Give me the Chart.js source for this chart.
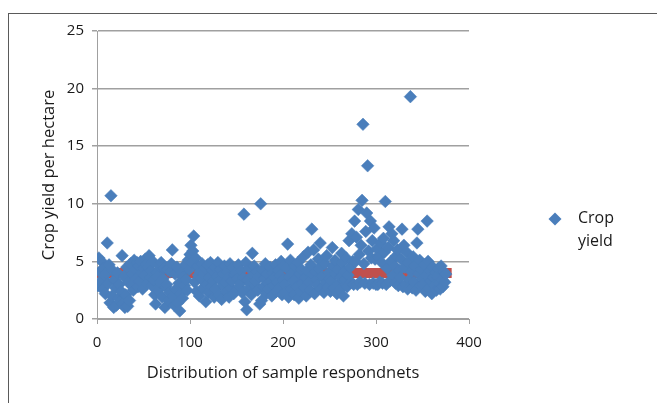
<!DOCTYPE html>
<html>
<head>
<meta charset="utf-8">
<script src="https://cdn.jsdelivr.net/npm/chart.js@4.4.1/dist/chart.umd.min.js"></script>
<style>
  html, body { margin: 0; padding: 0; background: #fff; }
  #wrap { width: 657px; height: 403px; position: relative; }
</style>
</head>
<body>
<div id="wrap"><canvas id="chart" width="657" height="403"></canvas></div>
<script>
// Crop yield per respondent (respondent number = position in list, 1..375)
const cropYield = [
  2.9, 5.3, 4.1, 3.3, 5.0, 2.6, 4.4, 3.8, 2.2, 4.0, 6.6, 3.1, 4.7, 1.4, 10.7, 2.0, 4.2, 1.0, 3.4, 2.7, 1.2, 4.0, 1.8, 3.0, 1.5,
  2.4, 5.5, 1.3, 3.7, 1.0, 2.1, 4.5, 1.1, 3.2, 1.6, 4.8, 2.9, 3.9, 2.5, 5.1, 4.3, 3.5, 4.9, 2.8, 4.6, 3.3, 5.0, 4.0, 2.6, 4.4,
  3.8, 5.2, 4.7, 3.1, 4.5, 5.5, 3.6, 4.2, 2.9, 5.0, 3.4, 2.1, 1.3, 4.0, 3.7, 2.5, 4.6, 3.2, 4.9, 1.9, 3.5, 4.4, 1.0, 2.8, 3.0,
  4.3, 1.6, 2.3, 4.1, 4.8, 6.0, 2.0, 1.2, 3.9, 2.6, 4.5, 1.4, 3.1, 0.7, 2.2, 4.0, 1.8, 3.6, 2.9, 4.7, 3.4, 2.5, 5.1, 4.3, 5.6,
  6.4, 4.9, 5.9, 7.2, 3.2, 5.3, 2.4, 4.6, 3.8, 2.0, 4.1, 3.5, 4.8, 2.7, 3.9, 4.4, 1.5, 3.0, 4.7, 2.3, 3.6, 4.9, 2.8, 4.2, 3.3,
  1.9, 4.5, 2.6, 3.7, 4.9, 2.1, 3.4, 4.3, 1.7, 3.9, 2.9, 4.6, 3.2, 2.4, 4.1, 3.6, 1.9, 4.8, 2.7, 3.3, 4.4, 2.2, 3.8, 4.0, 2.5,
  3.5, 4.7, 2.8, 3.1, 4.2, 2.3, 3.6, 9.1, 1.5, 4.9, 0.8, 3.4, 2.6, 4.4, 3.0, 2.1, 5.7, 3.8, 4.6, 2.9, 3.3, 4.1, 2.5, 3.7, 1.3,
  10.0, 1.6, 4.3, 2.8, 3.5, 4.8, 2.2, 3.9, 3.1, 2.6, 4.5, 3.3, 2.0, 4.0, 2.9, 3.6, 4.7, 2.4, 3.2, 4.2, 2.7, 3.8, 5.0, 2.1, 3.4,
  4.6, 3.0, 2.3, 4.4, 6.5, 1.9, 3.7, 5.1, 2.6, 4.0, 3.3, 2.1, 4.6, 3.5, 2.8, 4.9, 1.8, 3.9, 2.4, 4.3, 3.1, 5.4, 2.7, 3.6, 2.0,
  4.2, 5.8, 3.2, 2.5, 4.7, 7.8, 3.8, 6.0, 2.2, 4.1, 3.4, 2.9, 5.2, 4.4, 6.6, 2.6, 3.7, 5.0, 2.3, 4.8, 3.1, 5.5, 2.8, 4.0, 3.5,
  2.4, 3.3, 6.2, 4.6, 2.7, 5.1, 3.9, 2.2, 4.3, 3.0, 2.5, 3.6, 5.7, 4.9, 2.0, 4.1, 3.4, 5.3, 2.8, 3.8, 6.8, 4.5, 3.2, 7.4, 5.0,
  3.0, 8.5, 5.0, 7.1, 3.0, 9.5, 5.6, 3.2, 6.4, 10.3, 16.9, 4.8, 3.1, 7.6, 9.2, 13.3, 5.9, 3.0, 8.5, 5.3, 6.8, 3.1, 7.9, 5.2, 3.0,
  6.1, 3.0, 5.4, 3.2, 6.6, 4.9, 3.1, 7.0, 5.8, 10.2, 3.0, 4.4, 6.2, 8.0, 3.3, 5.0, 7.4, 3.8, 6.8, 4.6, 3.1, 5.5, 6.0, 2.9, 4.2,
  3.6, 5.2, 7.8, 2.8, 6.4, 4.5, 3.0, 5.8, 2.6, 4.9, 3.4, 19.3, 4.1, 2.7, 5.4, 3.2, 4.6, 2.5, 6.6, 7.8, 3.9, 5.1, 2.9, 4.3, 3.5,
  3.0, 4.7, 2.4, 3.8, 8.5, 5.0, 2.7, 4.2, 3.3, 2.2, 4.5, 3.6, 2.9, 4.0, 2.5, 3.7, 4.4, 3.1, 2.6, 4.6, 3.4, 2.8, 4.1, 3.2, 3.9
];

// red trend band (break points)
const trendX = [0, 86, 92, 98, 110, 114, 118, 185, 192, 199, 376];
const trendY = [4.0, 4.0, 4.3, 4.0, 4.0, 3.6, 4.0, 4.0, 4.6, 4.0, 4.0];

const xTicks = [0, 100, 200, 300, 400];
const yTicks = [0, 5, 10, 15, 20, 25];

const blue = '#4a7ebb';
const red = '#c0504d';
const gridGray = '#a0a0a0';
const textColor = '#1a1a1a';
const fontFamily = '"Open Sans", "Liberation Sans", sans-serif';

const yieldPoints = cropYield.map((v, i) => ({ x: i + 1, y: v }));
const trendPoints = trendX.map((x, i) => ({ x: x, y: trendY[i] }));

// frame around the whole chart + legend on the right
const framePlugin = {
  id: 'frame',
  beforeDraw(chart) {
    const ctx = chart.ctx;
    ctx.save();
    ctx.fillStyle = '#fff';
    ctx.fillRect(0, 0, chart.width, chart.height);
    ctx.strokeStyle = '#5a5a5a';
    ctx.lineWidth = 1;
    ctx.strokeRect(8.5, 13.5, 700, 500);
    ctx.restore();
  },
  afterDraw(chart) {
    const ctx = chart.ctx;
    ctx.save();
    // diamond marker
    const cx = 555, cy = 219, r = 6.5;
    ctx.fillStyle = blue;
    ctx.beginPath();
    ctx.moveTo(cx, cy - r);
    ctx.lineTo(cx + r, cy);
    ctx.lineTo(cx, cy + r);
    ctx.lineTo(cx - r, cy);
    ctx.closePath();
    ctx.fill();
    ctx.fillStyle = textColor;
    ctx.font = '16px ' + fontFamily;
    ctx.textBaseline = 'middle';
    ctx.textAlign = 'left';
    ctx.fillText('Crop', 578, 218);
    ctx.fillText('yield', 578, 241);
    ctx.restore();
  }
};

new Chart(document.getElementById('chart'), {
  type: 'scatter',
  data: {
    datasets: [
      {
        label: 'Crop yield',
        data: yieldPoints,
        backgroundColor: blue,
        borderColor: blue,
        borderWidth: 0.5,
        pointStyle: 'rectRot',
        pointRadius: 6.3,
        order: 1
      },
      {
        label: 'Trend',
        type: 'line',
        data: trendPoints,
        borderColor: red,
        borderWidth: 10,
        borderCapStyle: 'square',
        pointRadius: 0,
        fill: false,
        order: 2
      }
    ]
  },
  options: {
    responsive: false,
    animation: false,
    events: [],
    layout: {
      padding: { left: 36, top: 31, right: 188, bottom: 17 }
    },
    plugins: {
      legend: { display: false },
      tooltip: { enabled: false }
    },
    scales: {
      x: {
        type: 'linear',
        min: 0,
        max: 400,
        afterBuildTicks: s => { s.ticks = xTicks.map(v => ({ value: v })); },
        afterFit: s => { s.height = 67; },
        grid: {
          drawOnChartArea: false,
          drawTicks: true,
          tickLength: 5,
          color: gridGray
        },
        border: { color: gridGray, width: 1 },
        ticks: {
          color: textColor,
          font: { family: fontFamily, size: 15 },
          padding: 10,
          maxRotation: 0
        },
        title: {
          display: true,
          text: 'Distribution of sample respondnets',
          color: textColor,
          font: { family: fontFamily, size: 16.5 },
          padding: { top: 4, bottom: 3 }
        }
      },
      y: {
        min: 0,
        max: 25,
        afterBuildTicks: s => { s.ticks = yTicks.map(v => ({ value: v })); },
        afterFit: s => { s.width = 61; },
        grid: {
          drawOnChartArea: true,
          drawTicks: true,
          tickLength: 5,
          color: gridGray,
          lineWidth: 1.5
        },
        border: { color: gridGray, width: 1 },
        ticks: {
          color: textColor,
          font: { family: fontFamily, size: 15 },
          padding: 8
        },
        title: {
          display: true,
          text: 'Crop yield per hectare',
          color: textColor,
          font: { family: fontFamily, size: 16.5 },
          padding: { top: 3, bottom: 4 }
        }
      }
    }
  },
  plugins: [framePlugin]
});
</script>
</body>
</html>
